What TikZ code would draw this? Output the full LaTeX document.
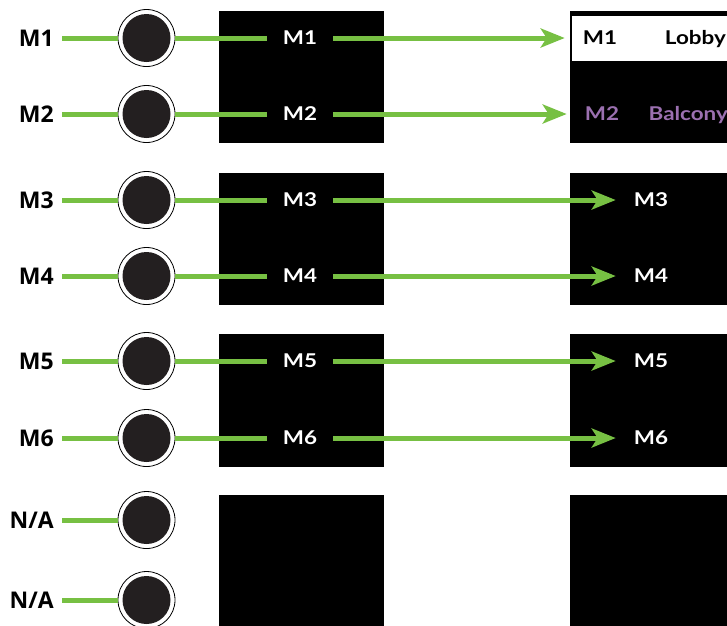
\documentclass[tikz,border=0pt]{standalone}
\usepackage{fontspec}
\setmainfont{Lato}
\newfontfamily\leftfont{Open Sans}
\newfontfamily\boxfont{Lato}[FakeStretch=1.18]
\usetikzlibrary{arrows.meta}
\definecolor{wire}{HTML}{77C043}
\definecolor{knob}{HTML}{231F20}
\definecolor{lilac}{HTML}{9B70B0}
\tikzset{
  x=1pt,y=-1pt,
  srclabel/.style={anchor=east,inner xsep=8pt,inner ysep=0pt,font=\leftfont\bfseries\fontsize{23}{23}\selectfont},
  knobnode/.style={circle,draw=black,line width=0.8pt,fill=white,minimum size=57pt,inner sep=0pt,
    path picture={\fill[knob] (path picture bounding box.center) circle (24pt);}},
  boxtext/.style={font=\boxfont\bfseries\fontsize{19}{19}\selectfont},
  midlabel/.style={boxtext,text=white,inner xsep=16pt,inner ysep=0pt},
  dstlabel/.style={boxtext,inner xsep=18pt,inner ysep=0pt},
  namelabel/.style={boxtext,anchor=base east,inner sep=0pt},
  wireline/.style={draw=wire,line width=5pt},
  wirearrow/.style={wireline,-{Stealth[length=24pt,width=19pt,inset=6pt]}},
  panel/.style={fill=black}
}
\begin{document}
\begin{tikzpicture}
\useasboundingbox (0,0) rectangle (727,625);
\clip (0,0) rectangle (727,625);
% middle panels
\fill[panel] (219,11) rectangle (384,143);
\fill[panel] (219,173) rectangle (384,305);
\fill[panel] (219,334) rectangle (384,467);
\fill[panel] (219,495) rectangle (384,640);
% right panels
\fill[panel] (570,11) rectangle (740,143);
\fill[white] (572,16) rectangle (740,61);
\fill[panel] (570,173) rectangle (740,305);
\fill[panel] (570,334) rectangle (740,467);
\fill[panel] (570,495) rectangle (740,640);
% source labels and knobs
\foreach \i/\t/\y in {1/M1/38,2/M2/114,3/M3/200,4/M4/276,5/M5/361,6/M6/438,7/N\slash A/520,8/N\slash A/600}{
  \node[srclabel] (s\i) at (62,\y) {\t};
  \node[knobnode] (k\i) at (146.5,\y) {};
  \draw[wireline] (s\i.east) -- (k\i.west);
}
% middle labels
\foreach \i/\t/\y in {1/M1/38,2/M2/114,3/M3/200,4/M4/276,5/M5/361,6/M6/438}{
  \node[midlabel] (m\i) at (300,\y) {\t};
  \draw[wireline] (k\i.east) -- (m\i.west);
}
% destination labels
\node[dstlabel,text=black] (d1) at (600,38) {M1};
\node[dstlabel,text=lilac] (d2) at (602,114) {M2};
\node[dstlabel,text=white] (d3) at (651,200) {M3};
\node[dstlabel,text=white] (d4) at (651,276) {M4};
\node[dstlabel,text=white] (d5) at (651,361) {M5};
\node[dstlabel,text=white] (d6) at (651,438) {M6};
\node[namelabel,text=black] (n1) at (d1.base -| 726,0) {Lobby};
\node[namelabel,text=lilac] (n2) at (d2.base -| 728,0) {Balcony};
\foreach \i in {1,...,6}{
  \draw[wirearrow] (m\i.east) -- (d\i.west);
}
\end{tikzpicture}
\end{document}
